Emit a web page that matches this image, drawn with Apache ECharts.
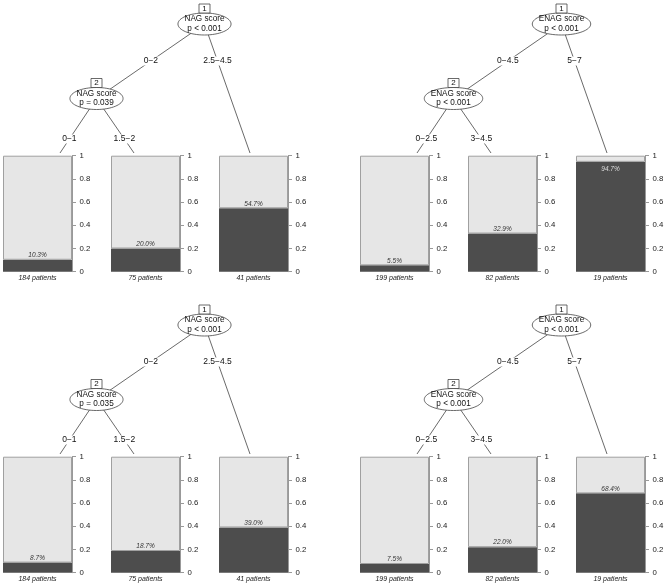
<!DOCTYPE html>
<html>
<head>
<meta charset="utf-8">
<script src="https://cdn.jsdelivr.net/npm/echarts@6/dist/echarts.min.js"></script>
<style>html,body{margin:0;padding:0;background:#fff}#c{width:669px;height:587px}</style>
</head>
<body>
<div id="c"></div>
<script>
// ---- data ----
const nodeVars = [['NAG score','NAG score'],['ENAG score','ENAG score'],['NAG score','NAG score'],['ENAG score','ENAG score']];
const nodePvals = [['p < 0.001','p = 0.039'],['p < 0.001','p < 0.001'],['p < 0.001','p = 0.035'],['p < 0.001','p < 0.001']];
const edgeLabels = [['0\u22122','2.5\u22124.5','0\u22121','1.5\u22122'],['0\u22124.5','5\u22127','0\u22122.5','3\u22124.5'],['0\u22122','2.5\u22124.5','0\u22121','1.5\u22122'],['0\u22124.5','5\u22127','0\u22122.5','3\u22124.5']];
const leafPatients = [[184,75,41],[199,82,19],[184,75,41],[199,82,19]];
const leafRates = [[0.103,0.200,0.547],[0.055,0.329,0.947],[0.087,0.187,0.390],[0.075,0.220,0.684]];
const yTicks = [0, 0.2, 0.4, 0.6, 0.8, 1];

// ---- layout ----
const panelDX = [0, 357, 0, 357], panelDY = [0, 0, 301, 301];
const N1 = {x:204.5, y:24}, N2 = {x:96.5, y:98.5};
const LEAF_X = [60, 134, 250], LEAF_Y = 153, LAB_Y = [61, 139];
const BAR_LEFT = [3, 111, 219], BAR_W = 69, BAR_TOP = 155.7, BAR_H = 116;
const FONT = 'Liberation Sans, Arial, sans-serif';
const LINE = '#444';

const chart = echarts.init(document.getElementById('c'));
const ctx = document.createElement('canvas').getContext('2d');
ctx.font = '8px ' + FONT;

const grids = [], xAxes = [], yAxes = [], series = [], graphics = [];

function onLine(a, b, y) { return a.x + (y - a.y) * (b.x - a.x) / (b.y - a.y); }

for (let p = 0; p < 4; p++) {
  const dx = panelDX[p], dy = panelDY[p];
  const n1 = {x: N1.x + dx, y: N1.y + dy}, n2 = {x: N2.x + dx, y: N2.y + dy};
  const leaves = LEAF_X.map(x => ({x: x + dx, y: LEAF_Y + dy}));
  const edges = [[n1, n2, LAB_Y[0]], [n1, leaves[2], LAB_Y[0]], [n2, leaves[0], LAB_Y[1]], [n2, leaves[1], LAB_Y[1]]];
  edges.forEach((e, i) => {
    graphics.push({type:'line', z:1, shape:{x1:e[0].x, y1:e[0].y, x2:e[1].x, y2:e[1].y}, style:{stroke:LINE, lineWidth:0.8}});
    const ly = e[2] + dy;
    graphics.push({type:'text', z:3, style:{text:edgeLabels[p][i], x:onLine(e[0], e[1], ly), y:ly, align:'center', verticalAlign:'middle', font:'8.5px ' + FONT, fill:'#111', backgroundColor:'#fff', padding:[0,1]}});
  });
  [n1, n2].forEach((n, k) => {
    const w = Math.max(ctx.measureText(nodeVars[p][k]).width, ctx.measureText(nodePvals[p][k]).width);
    const rx = w / 2 + 7, ry = 11;
    graphics.push({type:'ellipse', z:2, shape:{cx:n.x, cy:n.y, rx:rx, ry:ry}, style:{fill:'#fff', stroke:LINE, lineWidth:0.8}});
    graphics.push({type:'text', z:3, style:{text:nodeVars[p][k], x:n.x, y:n.y - 5, align:'center', verticalAlign:'middle', font:'8.2px ' + FONT, fill:'#111'}});
    graphics.push({type:'text', z:3, style:{text:nodePvals[p][k], x:n.x, y:n.y + 4.5, align:'center', verticalAlign:'middle', font:'8.2px ' + FONT, fill:'#111'}});
    graphics.push({type:'rect', z:3, shape:{x:n.x - 5.5, y:n.y - ry - 9, width:11, height:9}, style:{fill:'#fff', stroke:LINE, lineWidth:0.8}});
    graphics.push({type:'text', z:4, style:{text:String(k + 1), x:n.x, y:n.y - ry - 4.3, align:'center', verticalAlign:'middle', font:'8px ' + FONT, fill:'#111'}});
  });
  for (let j = 0; j < 3; j++) {
    const gi = grids.length;
    grids.push({left: BAR_LEFT[j] + dx, top: BAR_TOP + dy, width: BAR_W, height: BAR_H, containLabel:false});
    xAxes.push({gridIndex: gi, type:'category', data:[leafPatients[p][j] + ' patients'],
      axisLine:{show:false}, axisTick:{show:false},
      axisLabel:{margin:3, fontSize:7, fontStyle:'italic', color:'#222', fontFamily:FONT}});
    yAxes.push({gridIndex: gi, type:'value', position:'right', min:yTicks[0], max:yTicks[yTicks.length-1], interval:0.2,
      axisLine:{show:true, lineStyle:{color:'#999', width:1}},
      axisTick:{show:true, length:4, lineStyle:{color:'#999'}},
      splitLine:{show:false},
      axisLabel:{margin:7.5, fontSize:7.8, color:'#222', fontFamily:FONT}});
    const r = leafRates[p][j];
    const high = r > 0.85;
    series.push({type:'bar', xAxisIndex:gi, yAxisIndex:gi, stack:'s' + gi, barWidth:'100%', silent:true,
      data:[r], itemStyle:{color:'#4d4d4d'},
      label:{show:true, position: high ? 'insideTop' : 'top', distance: high ? 4 : 1,
        formatter: v => (v.value * 100).toFixed(1) + '%', fontSize:6.5, fontStyle:'italic',
        color: high ? '#ddd' : '#333', fontFamily:FONT}});
    series.push({type:'bar', xAxisIndex:gi, yAxisIndex:gi, stack:'s' + gi, barWidth:'100%', silent:true,
      data:[1 - r], itemStyle:{color:'#e6e6e6', borderColor:'#a0a0a0', borderWidth:1}});
  }
}

chart.setOption({
  animation:false,
  backgroundColor:'#fff',
  grid:grids, xAxis:xAxes, yAxis:yAxes, series:series,
  graphic:graphics
});
</script>
</body>
</html>
